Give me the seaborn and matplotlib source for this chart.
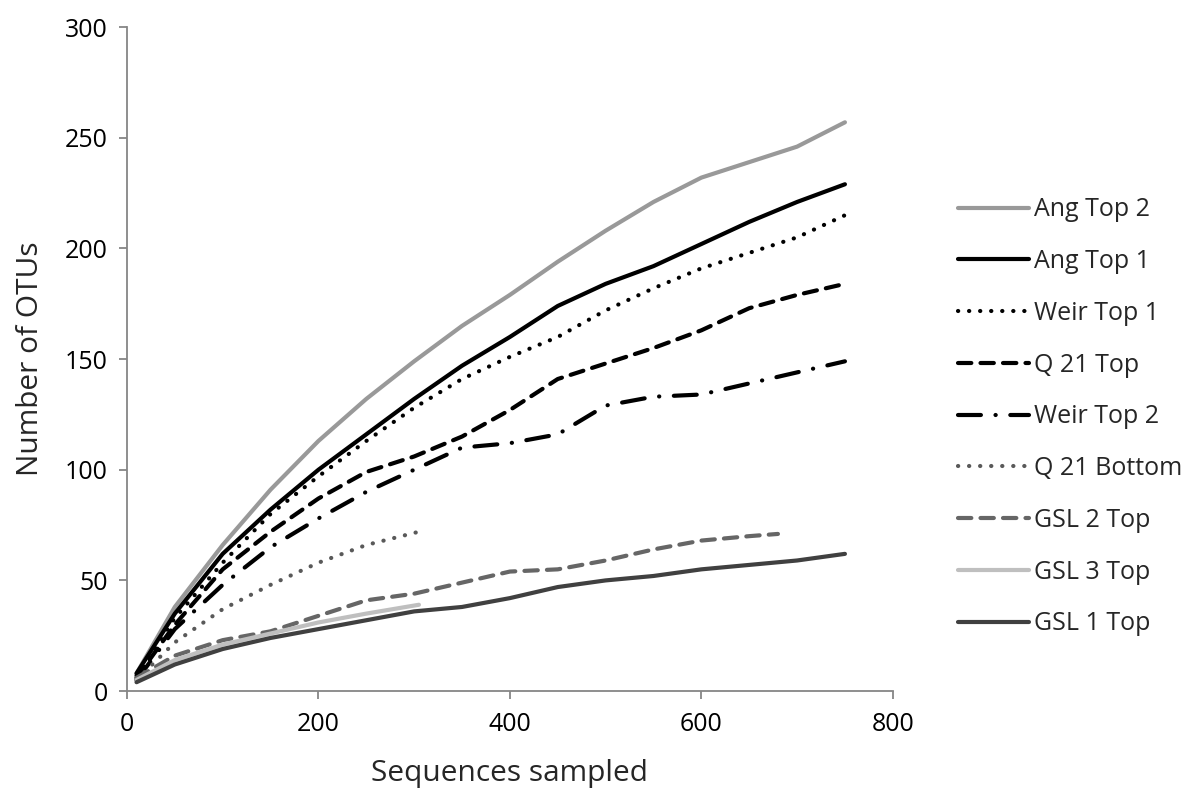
import matplotlib
matplotlib.use("Agg")
import matplotlib.pyplot as plt
import seaborn as sns
import pandas as pd

# ---- data ----
x_full = [10, 50, 100, 150, 200, 250, 300, 350, 400, 450, 500, 550, 600, 650, 700, 750]
x_short = [10, 50, 100, 150, 200, 250, 305]
x_gsl2 = [10, 50, 100, 150, 200, 250, 300, 350, 400, 450, 500, 550, 600, 650, 680]

ang_top2 = [8, 38, 66, 91, 113, 132, 149, 165, 179, 194, 208, 221, 232, 239, 246, 257]
ang_top1 = [8, 35, 62, 82, 100, 116, 132, 147, 160, 174, 184, 192, 202, 212, 221, 229]
weir_top1 = [7, 33, 58, 80, 97, 113, 128, 141, 151, 160, 172, 182, 191, 198, 205, 215]
q21_top = [6, 30, 55, 72, 87, 99, 106, 115, 127, 141, 148, 155, 163, 173, 179, 184]
weir_top2 = [5, 28, 48, 65, 78, 90, 100, 110, 112, 116, 129, 133, 134, 139, 144, 149]
q21_bottom = [5, 22, 37, 48, 58, 66, 72]
gsl2_top = [6, 16, 23, 27, 34, 41, 44, 49, 54, 55, 59, 64, 68, 70, 71]
gsl3_top = [5, 14, 21, 26, 31, 35, 39]
gsl1_top = [4, 12, 19, 24, 28, 32, 36, 38, 42, 47, 50, 52, 55, 57, 59, 62]

series_names = ["Ang Top 2", "Ang Top 1", "Weir Top 1", "Q 21 Top", "Weir Top 2",
                "Q 21 Bottom", "GSL 2 Top", "GSL 3 Top", "GSL 1 Top"]

x_ticks = [0, 200, 400, 600, 800]
y_ticks = [0, 50, 100, 150, 200, 250, 300]

# ---- style ----
sns.set_style("white")
plt.rcParams["font.family"] = ["Open Sans", "DejaVu Sans"]

fig = plt.figure(figsize=(11.92, 7.98), dpi=100)
ax = fig.add_axes([0.1065, 0.134, 0.6425, 0.832])

lw = 3.0
styles = [
    (x_full, ang_top2, "#999999", "-"),
    (x_full, ang_top1, "#000000", "-"),
    (x_full, weir_top1, "#000000", (0, (0.05, 2.6))),
    (x_full, q21_top, "#000000", (0, (3.2, 2.2))),
    (x_full, weir_top2, "#000000", (0, (5.5, 3.5, 0.05, 3.5))),
    (x_short, q21_bottom, "#595959", (0, (0.05, 2.6))),
    (x_gsl2, gsl2_top, "#666666", (0, (3.2, 2.2))),
    (x_short, gsl3_top, "#BFBFBF", "-"),
    (x_full, gsl1_top, "#404040", "-"),
]

for name, (xs, ys, col, ls) in zip(series_names, styles):
    df = pd.DataFrame({"x": xs, "y": ys})
    sns.lineplot(data=df, x="x", y="y", ax=ax, color=col, linestyle=ls,
                 linewidth=lw, label=name, sort=False,
                 dash_capstyle="round", solid_capstyle="round")

ax.set_xlim(0, 800)
ax.set_ylim(0, 300)
ax.set_xticks(x_ticks)
ax.set_yticks(y_ticks)
ax.set_xticklabels([str(v) for v in x_ticks])
ax.set_yticklabels([str(v) for v in y_ticks])

for s in ["top", "right"]:
    ax.spines[s].set_visible(False)
for s in ["left", "bottom"]:
    ax.spines[s].set_color("#868686")
    ax.spines[s].set_linewidth(1.3)

ax.tick_params(axis="both", which="major", direction="out", length=6,
               width=1.3, color="#868686", labelsize=18, labelcolor="black",
               left=True, bottom=True)
ax.tick_params(axis="x", pad=9)
ax.tick_params(axis="y", pad=8)

ax.set_xlabel("Sequences sampled", fontsize=21.5, labelpad=16)
ax.set_ylabel("Number of OTUs", fontsize=21.5, labelpad=14)

leg = ax.legend(loc="center left", bbox_to_anchor=(1.072, 0.413), frameon=False,
                fontsize=18, handlelength=2.85, handletextpad=0.2,
                labelspacing=1.07, borderaxespad=0)

fig.savefig("out.png", dpi=100)
